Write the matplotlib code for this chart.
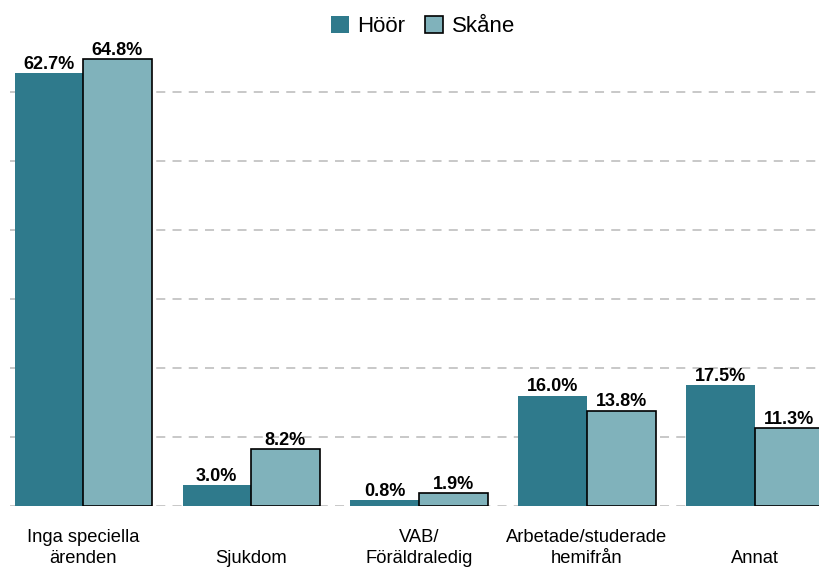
import numpy as np
import matplotlib.pyplot as plt
from matplotlib.patches import Patch

plt.rcParams['font.family'] = ['Liberation Sans', 'DejaVu Sans']

kategorier = ['Inga speciella\närenden', 'Sjukdom', 'VAB/\nFöräldraledig',
              'Arbetade/studerade\nhemifrån', 'Annat']
hoor = [62.7, 3.0, 0.8, 16.0, 17.5]
skane = [64.8, 8.2, 1.9, 13.8, 11.3]

farg_hoor = '#2f7a8c'
farg_skane = '#80b2bb'

fig = plt.figure(figsize=(8.2, 5.68), dpi=100)
ax = fig.add_axes([10/820, 62/568, 810/820, 483/568])

x = np.arange(len(kategorier))
w = 0.408

b1 = ax.bar(x - w/2, hoor, w, color=farg_hoor, edgecolor='none', zorder=3)
b2 = ax.bar(x + w/2, skane, w, color=farg_skane, edgecolor='black', linewidth=1.2, zorder=3)

for bars, vals in [(b1, hoor), (b2, skane)]:
    for b, v in zip(bars, vals):
        ax.text(b.get_x() + b.get_width()/2, v + 0.05, f'{v:.1f}%',
                ha='center', va='bottom', fontsize=13, fontweight='bold', zorder=4)

ax.set_xlim(-0.435, 4.387)
ax.set_ylim(0, 70)
ax.set_yticks(np.arange(0, 70, 10))
ax.set_yticklabels([])
ax.yaxis.grid(True, color='#c4c4c4', linestyle=(0, (5, 4)), linewidth=1.3, zorder=0)
ax.tick_params(axis='y', length=0)

ax.set_xticks(x)
ax.set_xticklabels(kategorier, fontsize=13.2, linespacing=1.35)
for t in ax.get_xticklabels():
    t.set_va('bottom')
ax.tick_params(axis='x', length=0, pad=44)

for s in ax.spines.values():
    s.set_visible(False)

handles = [Patch(facecolor=farg_hoor, edgecolor='none', label='Höör'),
           Patch(facecolor=farg_skane, edgecolor='black', linewidth=1.2, label='Skåne')]
fig.legend(handles=handles, loc='center', bbox_to_anchor=(0.516, 0.953), ncol=2,
           frameon=False, fontsize=16, handlelength=0.8, handleheight=0.8,
           handletextpad=0.4, columnspacing=0.9)

plt.savefig('out.png', dpi=100)
